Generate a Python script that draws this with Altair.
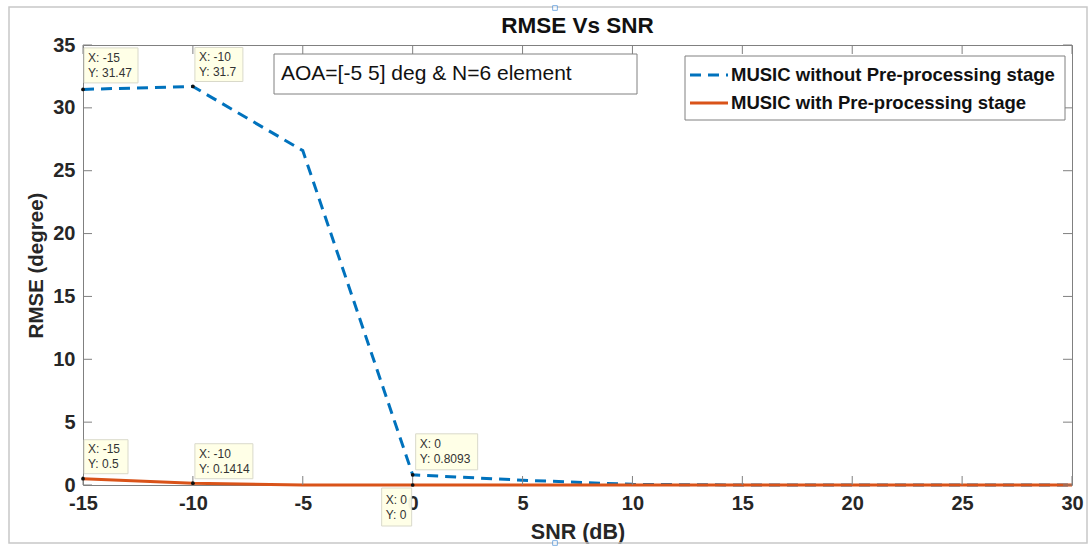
import altair as alt
import pandas as pd

# ---------------- data ----------------
snr = [-15, -10, -5, 0, 5, 10, 15, 20, 25, 30]
rmse_without = [31.47, 31.7, 26.6, 0.8093, 0.38, 0.05, 0, 0, 0, 0]
rmse_with = [0.5, 0.1414, 0, 0, 0, 0, 0, 0, 0, 0]
series_names = ["MUSIC without Pre-processing stage", "MUSIC with Pre-processing stage"]

x_ticks = [-15, -10, -5, 0, 5, 10, 15, 20, 25, 30]
y_ticks = [0, 5, 10, 15, 20, 25, 30, 35]

tip_x = [-15, -10, -15, -10, 0, 0]
tip_y = [31.47, 31.7, 0.5, 0.1414, 0.8093, 0]
tip_text = ["X: -15\nY: 31.47", "X: -10\nY: 31.7", "X: -15\nY: 0.5",
            "X: -10\nY: 0.1414", "X: 0\nY: 0.8093", "X: 0\nY: 0"]

title_text = "RMSE Vs SNR"
annotation_text = "AOA=[-5 5] deg & N=6 element"
x_title = "SNR (dB)"
y_title = "RMSE (degree)"

# ---------------- styling ----------------
W, H = 989, 440
FONT = "Liberation Sans"
BLUE = "#0072BD"
ORANGE = "#D95319"
FRAME = "#808080"
TXT = "#262626"
# data tip box geometry: (center dx, center dy, width, height)
tip_geom = [(28, -24, 54, 35), (26, -22, 48, 34), (23, -22, 44, 34),
            (31, -22, 58, 35), (34, -23, 62, 36), (-16, 22, 30, 38)]
TIP_LH = 15

lines_df = pd.DataFrame({
    "snr": snr * 2,
    "rmse": rmse_without + rmse_with,
    "series": [series_names[0]] * len(snr) + [series_names[1]] * len(snr),
})

xs = alt.Scale(domain=[-15, 30], nice=False, zero=False)
ys = alt.Scale(domain=[0, 35], nice=False)

base_x = alt.X("snr:Q", scale=xs, title=x_title,
               axis=alt.Axis(values=x_ticks, grid=False, ticks=False, domain=False,
                             labelExpr="toString(datum.value)", labelFlush=False,
                             labelOverlap=False,
                             labelFont=FONT, labelFontSize=20, labelFontWeight="bold",
                             labelColor=TXT, labelPadding=8,
                             titleFont=FONT, titleFontSize=21.5, titleFontWeight="bold",
                             titleColor=TXT, titleY=47, titleBaseline="middle"))
base_y = alt.Y("rmse:Q", scale=ys, title=y_title,
               axis=alt.Axis(values=y_ticks, grid=False, ticks=False, domain=False,
                             labelExpr="toString(datum.value)", labelFlush=False,
                             labelOverlap=False,
                             labelFont=FONT, labelFontSize=20, labelFontWeight="bold",
                             labelColor=TXT, labelPadding=8,
                             titleFont=FONT, titleFontSize=20.5, titleFontWeight="bold",
                             titleColor=TXT, titleX=-47, titleY=220,
                             titleBaseline="middle", titleAlign="center"))

blue_line = alt.Chart(lines_df).transform_filter(
    alt.datum.series == series_names[0]
).mark_line(color=BLUE, strokeWidth=3, strokeDash=[11, 7]).encode(x=base_x, y=base_y)

orange_line = alt.Chart(lines_df).transform_filter(
    alt.datum.series == series_names[1]
).mark_line(color=ORANGE, strokeWidth=3).encode(
    x=alt.X("snr:Q", scale=xs), y=alt.Y("rmse:Q", scale=ys))

# inward ticks
xt_df = pd.DataFrame({"t": x_ticks})
yt_df = pd.DataFrame({"t": y_ticks})
tick_layers = [
    alt.Chart(xt_df).mark_rule(color=FRAME, strokeWidth=1).encode(
        x=alt.X("t:Q", scale=xs), y=alt.value(H), y2=alt.value(H - 9)),
    alt.Chart(xt_df).mark_rule(color=FRAME, strokeWidth=1).encode(
        x=alt.X("t:Q", scale=xs), y=alt.value(0), y2=alt.value(9)),
    alt.Chart(yt_df).mark_rule(color=FRAME, strokeWidth=1).encode(
        y=alt.Y("t:Q", scale=ys), x=alt.value(0), x2=alt.value(9)),
    alt.Chart(yt_df).mark_rule(color=FRAME, strokeWidth=1).encode(
        y=alt.Y("t:Q", scale=ys), x=alt.value(W), x2=alt.value(W - 9)),
]

# data tips
tip_layers = []
for i in range(len(tip_x)):
    dx, dy, w, h = tip_geom[i]
    df = pd.DataFrame({"snr": [tip_x[i]], "rmse": [tip_y[i]], "label": [tip_text[i]]})
    enc = dict(x=alt.X("snr:Q", scale=xs), y=alt.Y("rmse:Q", scale=ys))
    tip_layers.append(alt.Chart(df).mark_rect(
        width=w, height=h, xOffset=dx, yOffset=dy,
        fill="#FFFFE6", stroke="#D8D8C8", strokeWidth=1, opacity=0.95).encode(**enc))
    tip_layers.append(alt.Chart(df).mark_text(
        align="left", baseline="middle", dx=dx - w / 2 + 4, dy=dy - TIP_LH / 2,
        lineBreak="\n", lineHeight=TIP_LH, font=FONT, fontSize=12,
        color="#333333").encode(text="label:N", **enc))
    tip_layers.append(alt.Chart(df).mark_point(
        filled=True, size=14, color="#111111", opacity=1).encode(**enc))

# annotation box
ann_df = pd.DataFrame({"label": [annotation_text]})
ann_box = alt.Chart(ann_df).mark_rect(fill="white", stroke=FRAME, strokeWidth=1).encode(
    x=alt.value(191), x2=alt.value(554), y=alt.value(9), y2=alt.value(49))
ann_text = alt.Chart(ann_df).mark_text(
    align="left", baseline="middle", font=FONT, fontSize=21, color="#111111").encode(
    x=alt.value(198), y=alt.value(29), text="label:N")

# legend (manual)
leg_df = pd.DataFrame({"label": series_names})
leg_box = alt.Chart(leg_df.head(1)).mark_rect(fill="white", stroke=FRAME, strokeWidth=1).encode(
    x=alt.value(602), x2=alt.value(982), y=alt.value(11), y2=alt.value(75))
leg_l1 = alt.Chart(leg_df.head(1)).mark_rule(color=BLUE, strokeWidth=3, strokeDash=[11, 7]).encode(
    x=alt.value(607), x2=alt.value(645), y=alt.value(30))
leg_l2 = alt.Chart(leg_df.head(1)).mark_rule(color=ORANGE, strokeWidth=3).encode(
    x=alt.value(607), x2=alt.value(645), y=alt.value(58))
leg_t1 = alt.Chart(leg_df.iloc[[0]]).mark_text(
    align="left", baseline="middle", font=FONT, fontSize=18.5, fontWeight="bold",
    color="#111111").encode(x=alt.value(648), y=alt.value(30), text="label:N")
leg_t2 = alt.Chart(leg_df.iloc[[1]]).mark_text(
    align="left", baseline="middle", font=FONT, fontSize=18.5, fontWeight="bold",
    color="#111111").encode(x=alt.value(648), y=alt.value(58), text="label:N")

# title and figure border
t_df = pd.DataFrame({"label": [title_text]})
title = alt.Chart(t_df).mark_text(
    align="center", baseline="middle", font=FONT, fontSize=22.5, fontWeight="bold",
    color="#111111").encode(x=alt.value(W / 2), y=alt.value(-19), text="label:N")
border = alt.Chart(t_df).mark_rect(fill=None, stroke="#C8C8C8", strokeWidth=1.5).encode(
    x=alt.value(-74), x2=alt.value(1004), y=alt.value(-38), y2=alt.value(498))
handle_top = alt.Chart(t_df).mark_point(
    shape="square", size=22, fill="white", stroke="#4A90D9", strokeWidth=1,
    filled=False).encode(x=alt.value(472), y=alt.value(-37))
handle_bot = alt.Chart(t_df).mark_point(
    shape="square", size=22, fill="white", stroke="#4A90D9", strokeWidth=1,
    filled=False).encode(x=alt.value(472), y=alt.value(498))

chart = alt.layer(
    border, blue_line, orange_line, *tick_layers, *tip_layers,
    ann_box, ann_text, leg_box, leg_l1, leg_l2, leg_t1, leg_t2, title,
    handle_top, handle_bot
).properties(
    width=W, height=H,
    autosize=alt.AutoSizeParams(type="none"),
    padding={"left": 83, "top": 45, "right": 18, "bottom": 63},
    background="white",
).configure_view(stroke=FRAME, strokeWidth=1)

chart.save("out.html", embed_options={"renderer": "svg", "actions": False})
